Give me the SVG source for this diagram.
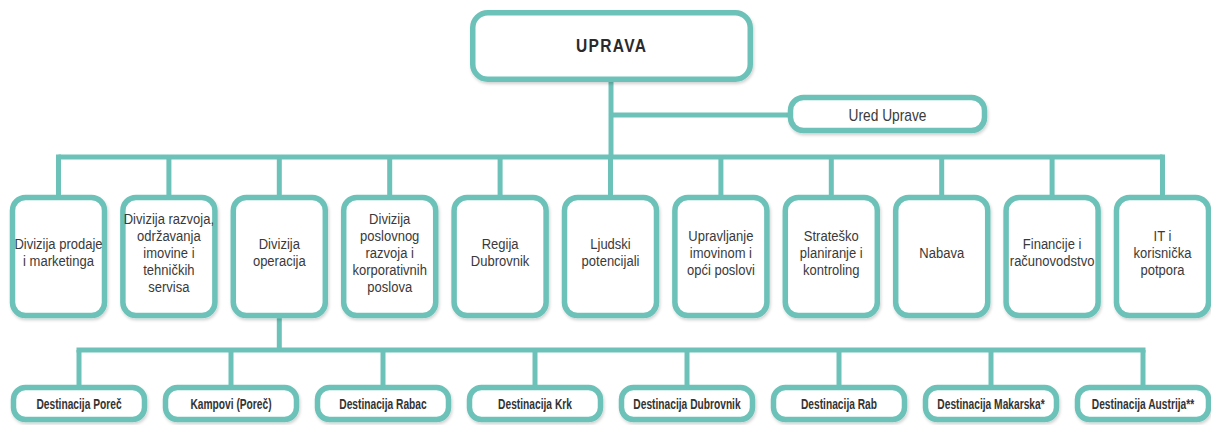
<svg xmlns="http://www.w3.org/2000/svg" width="1211" height="425" viewBox="0 0 1211 425">
<defs>
<filter id="sh" x="-10%" y="-10%" width="120%" height="130%">
<feDropShadow dx="1" dy="2" stdDeviation="1.8" flood-color="#000" flood-opacity="0.18"/>
</filter>
<style>
.box{fill:#ffffff;stroke:#6cc2b8;stroke-width:5.5;filter:url(#sh)}
.ln{stroke:#6cc2b8;stroke-width:5;fill:none;stroke-linecap:butt}
.t{font-family:"Liberation Sans",Arial,sans-serif;font-size:15.5px;fill:#3a3a3a;text-anchor:middle}
.tb{font-family:"Liberation Sans",Arial,sans-serif;font-size:14px;font-weight:bold;fill:#333333;text-anchor:middle}
.top{font-family:"Liberation Sans",Arial,sans-serif;font-size:19px;font-weight:bold;fill:#2a2a2a;text-anchor:middle;letter-spacing:1.6px}
</style>
</defs>
<rect width="1211" height="425" fill="#ffffff"/>
<g id="connectors">
<path class="ln" d="M611 80 V157"/>
<path class="ln" d="M611 115 H790"/>
<path class="ln" d="M58.5 157 H1162.5"/>
<path class="ln" d="M58.5 154.5 V197 M168.9 157 V197 M279.3 157 V197 M389.7 157 V197 M500.1 157 V197 M610.5 157 V197 M720.9 157 V197 M831.3 157 V197 M941.7 157 V197 M1052.1 157 V197 M1162.5 154.5 V197"/>
<path class="ln" d="M279.3 316 V350"/>
<path class="ln" d="M76.5 350 H1145.5"/>
<path class="ln" d="M79 350 V387 M231 350 V387 M383 350 V387 M535 350 V387 M687 350 V387 M839 350 V387 M991 350 V387 M1143 350 V387"/>
</g>
<g id="uprava"><rect class="box" x="472.75" y="12.75" width="277.5" height="66.5" rx="15"/><text class="top" transform="matrix(0.82 0 0 1 611 52)" x="0.8" y="0">UPRAVA</text></g>
<g id="ured-uprave"><rect class="box" x="790.5" y="97.5" width="194" height="33" rx="13"/><text class="t" transform="matrix(0.86 0 0 1 887.5 121)" x="0" y="0" style="font-size:16px">Ured Uprave</text></g>
<g id="div-prodaje"><rect class="box" x="12.5" y="197.5" width="92" height="118" rx="13"/><text class="t" transform="matrix(0.84 0 0 1 58.5 0)"><tspan x="0" y="249.5">Divizija prodaje</tspan><tspan x="0" y="266.5">i marketinga</tspan></text></g>
<g id="div-razvoja"><rect class="box" x="122.9" y="197.5" width="92" height="118" rx="13"/><text class="t" transform="matrix(0.84 0 0 1 168.9 0)"><tspan x="0" y="224">Divizija razvoja,</tspan><tspan x="0" y="241">održavanja</tspan><tspan x="0" y="258">imovine i</tspan><tspan x="0" y="275">tehničkih</tspan><tspan x="0" y="292">servisa</tspan></text></g>
<g id="div-operacija"><rect class="box" x="233.3" y="197.5" width="92" height="118" rx="13"/><text class="t" transform="matrix(0.84 0 0 1 279.3 0)"><tspan x="0" y="249.5">Divizija</tspan><tspan x="0" y="266.5">operacija</tspan></text></g>
<g id="div-poslovnog"><rect class="box" x="343.7" y="197.5" width="92" height="118" rx="13"/><text class="t" transform="matrix(0.84 0 0 1 389.7 0)"><tspan x="0" y="224">Divizija</tspan><tspan x="0" y="241">poslovnog</tspan><tspan x="0" y="258">razvoja i</tspan><tspan x="0" y="275">korporativnih</tspan><tspan x="0" y="292">poslova</tspan></text></g>
<g id="regija-dubrovnik"><rect class="box" x="454.1" y="197.5" width="92" height="118" rx="13"/><text class="t" transform="matrix(0.84 0 0 1 500.1 0)"><tspan x="0" y="249.5">Regija</tspan><tspan x="0" y="266.5">Dubrovnik</tspan></text></g>
<g id="ljudski"><rect class="box" x="564.5" y="197.5" width="92" height="118" rx="13"/><text class="t" transform="matrix(0.84 0 0 1 610.5 0)"><tspan x="0" y="249.5">Ljudski</tspan><tspan x="0" y="266.5">potencijali</tspan></text></g>
<g id="upravljanje"><rect class="box" x="674.9" y="197.5" width="92" height="118" rx="13"/><text class="t" transform="matrix(0.84 0 0 1 720.9 0)"><tspan x="0" y="241">Upravljanje</tspan><tspan x="0" y="258">imovinom i</tspan><tspan x="0" y="275">opći poslovi</tspan></text></g>
<g id="stratesko"><rect class="box" x="785.3" y="197.5" width="92" height="118" rx="13"/><text class="t" transform="matrix(0.84 0 0 1 831.3 0)"><tspan x="0" y="241">Strateško</tspan><tspan x="0" y="258">planiranje i</tspan><tspan x="0" y="275">kontroling</tspan></text></g>
<g id="nabava"><rect class="box" x="895.7" y="197.5" width="92" height="118" rx="13"/><text class="t" transform="matrix(0.84 0 0 1 941.7 0)" x="0" y="258">Nabava</text></g>
<g id="financije"><rect class="box" x="1006.1" y="197.5" width="92" height="118" rx="13"/><text class="t" transform="matrix(0.84 0 0 1 1052.1 0)"><tspan x="0" y="249.5">Financije i</tspan><tspan x="0" y="266.5">računovodstvo</tspan></text></g>
<g id="it"><rect class="box" x="1116.5" y="197.5" width="92" height="118" rx="13"/><text class="t" transform="matrix(0.84 0 0 1 1162.5 0)"><tspan x="0" y="241">IT i</tspan><tspan x="0" y="258">korisnička</tspan><tspan x="0" y="275">potpora</tspan></text></g>
<g id="dest-porec"><rect class="box" x="13.5" y="387.5" width="131" height="32" rx="12"/><text class="tb" transform="matrix(0.73 0 0 1 79 409)" x="0" y="0">Destinacija Poreč</text></g>
<g id="kampovi"><rect class="box" x="165.5" y="387.5" width="131" height="32" rx="12"/><text class="tb" transform="matrix(0.73 0 0 1 231 409)" x="0" y="0">Kampovi (Poreč)</text></g>
<g id="dest-rabac"><rect class="box" x="317.5" y="387.5" width="131" height="32" rx="12"/><text class="tb" transform="matrix(0.73 0 0 1 383 409)" x="0" y="0">Destinacija Rabac</text></g>
<g id="dest-krk"><rect class="box" x="469.5" y="387.5" width="131" height="32" rx="12"/><text class="tb" transform="matrix(0.73 0 0 1 535 409)" x="0" y="0">Destinacija Krk</text></g>
<g id="dest-dubrovnik"><rect class="box" x="621.5" y="387.5" width="131" height="32" rx="12"/><text class="tb" transform="matrix(0.73 0 0 1 687 409)" x="0" y="0">Destinacija Dubrovnik</text></g>
<g id="dest-rab"><rect class="box" x="773.5" y="387.5" width="131" height="32" rx="12"/><text class="tb" transform="matrix(0.73 0 0 1 839 409)" x="0" y="0">Destinacija Rab</text></g>
<g id="dest-makarska"><rect class="box" x="925.5" y="387.5" width="131" height="32" rx="12"/><text class="tb" transform="matrix(0.73 0 0 1 991 409)" x="0" y="0">Destinacija Makarska*</text></g>
<g id="dest-austrija"><rect class="box" x="1077.5" y="387.5" width="131" height="32" rx="12"/><text class="tb" transform="matrix(0.73 0 0 1 1143 409)" x="0" y="0">Destinacija Austrija**</text></g>
</svg>
